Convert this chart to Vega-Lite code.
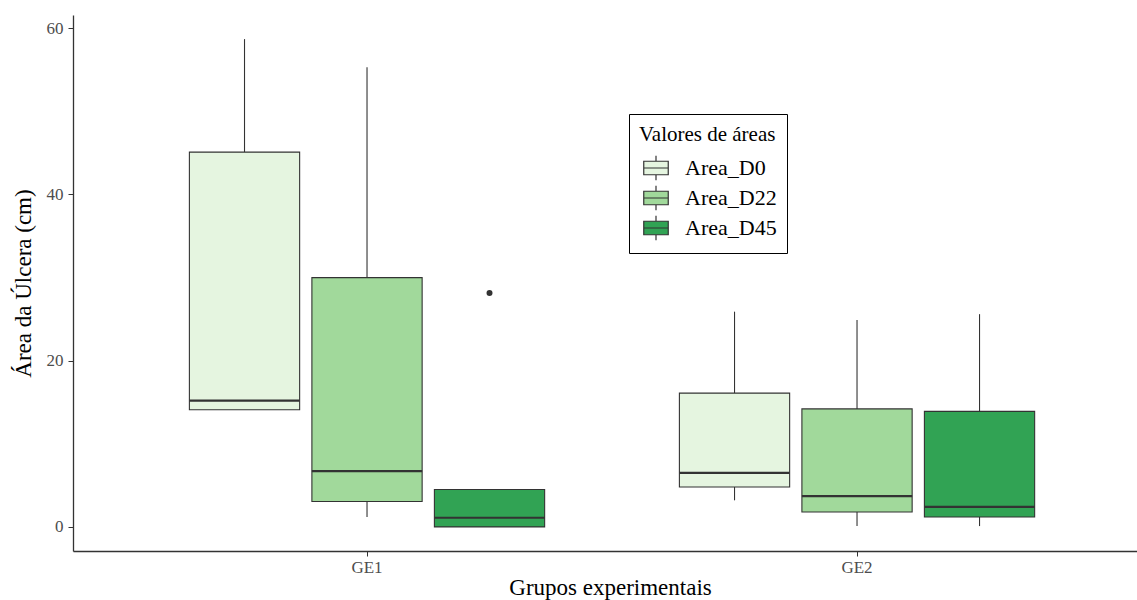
{
  "$schema": "https://vega.github.io/schema/vega-lite/v6.json",
  "width": 1064,
  "height": 536,
  "autosize": {"type": "none"},
  "padding": {"left": 73, "top": 15, "right": 0, "bottom": 49},
  "background": "white",
  "config": {
    "view": {"stroke": null},
    "font": "Liberation Serif",
    "axis": {
      "grid": false,
      "domainColor": "#333333",
      "domainWidth": 1.3,
      "tickColor": "#333333",
      "tickWidth": 1,
      "tickSize": 5,
      "labelColor": "#4d4d4d",
      "labelFont": "Liberation Serif",
      "labelFontSize": 17,
      "labelPadding": 3,
      "titleFont": "Liberation Serif",
      "titleFontWeight": "normal",
      "titleColor": "#000000"
    }
  },
  "datasets": {
    "boxes": [
      {"grupo": "GE1", "area": "Area_D0", "lower": 14.1, "q1": 14.1, "median": 15.2, "q3": 45.1, "upper": 58.7},
      {"grupo": "GE1", "area": "Area_D22", "lower": 1.2, "q1": 3.05, "median": 6.7, "q3": 30.0, "upper": 55.3},
      {"grupo": "GE1", "area": "Area_D45", "lower": 0.0, "q1": 0.0, "median": 1.1, "q3": 4.5, "upper": 4.5},
      {"grupo": "GE2", "area": "Area_D0", "lower": 3.2, "q1": 4.8, "median": 6.5, "q3": 16.1, "upper": 25.9},
      {"grupo": "GE2", "area": "Area_D22", "lower": 0.1, "q1": 1.8, "median": 3.7, "q3": 14.2, "upper": 24.9},
      {"grupo": "GE2", "area": "Area_D45", "lower": 0.1, "q1": 1.2, "median": 2.4, "q3": 13.9, "upper": 25.6}
    ],
    "outliers": [
      {"grupo": "GE1", "area": "Area_D45", "value": 28.15}
    ]
  },
  "encoding": {
    "x": {
      "field": "grupo",
      "type": "nominal",
      "title": "Grupos experimentais",
      "scale": {"domain": ["GE1", "GE2"], "paddingInner": 0.25, "paddingOuter": 0.2107, "align": 0.534},
      "axis": {"labelAngle": 0, "titleFontSize": 23, "titlePadding": 1, "titleX": 537, "labelFontSize": 17}
    },
    "xOffset": {
      "field": "area",
      "type": "nominal",
      "scale": {"domain": ["Area_D0", "Area_D22", "Area_D45"], "paddingInner": 0.1, "paddingOuter": 0.05}
    }
  },
  "layer": [
    {
      "data": {"name": "boxes"},
      "mark": {"type": "rule", "color": "#333333", "strokeWidth": 1.1},
      "encoding": {
        "y": {
          "field": "lower",
          "type": "quantitative",
          "title": "Área da Úlcera (cm)",
          "scale": {"domain": [-2.9, 61.6], "nice": false, "zero": false},
          "axis": {"values": [0, 20, 40, 60], "titleFontSize": 23, "titlePadding": 11, "labelPadding": 5}
        },
        "y2": {"field": "q1"}
      }
    },
    {
      "data": {"name": "boxes"},
      "mark": {"type": "rule", "color": "#333333", "strokeWidth": 1.1},
      "encoding": {
        "y": {"field": "q3", "type": "quantitative", "title": "Área da Úlcera (cm)"},
        "y2": {"field": "upper"}
      }
    },
    {
      "data": {"name": "boxes"},
      "mark": {"type": "bar", "stroke": "#333333", "strokeWidth": 1.1},
      "encoding": {
        "y": {"field": "q1", "type": "quantitative", "title": "Área da Úlcera (cm)"},
        "y2": {"field": "q3"},
        "fill": {
          "field": "area",
          "type": "nominal",
          "title": "Valores de áreas",
          "scale": {"domain": ["Area_D0", "Area_D22", "Area_D45"], "range": ["#e5f5e0", "#a1d99b", "#31a354"]},
          "legend": {
            "orient": "none",
            "legendX": 556,
            "legendY": 99,
            "padding": 10,
            "strokeColor": "#000000",
            "fillColor": "#ffffff",
            "titleFont": "Liberation Serif",
            "titleFontSize": 21,
            "titleFontWeight": "normal",
            "titleColor": "#000000",
            "titlePadding": 10,
            "labelFont": "Liberation Serif",
            "labelFontSize": 22,
            "labelColor": "#000000",
            "labelOffset": 16,
            "rowPadding": 0,
            "symbolType": "M-1,-0.55H1V0.55H-1Z M-1,0H1 M0,-1V-0.55 M0,0.55V1",
            "symbolSize": 600,
            "symbolStrokeColor": "#333333",
            "symbolStrokeWidth": 1.2,
            "symbolOffset": 4
          }
        }
      }
    },
    {
      "data": {"name": "boxes"},
      "mark": {"type": "bar", "stroke": "#333333", "strokeWidth": 2.2, "fillOpacity": 0},
      "encoding": {
        "y": {"field": "median", "type": "quantitative", "title": "Área da Úlcera (cm)"},
        "y2": {"field": "median"}
      }
    },
    {
      "data": {"name": "outliers"},
      "mark": {"type": "point", "filled": true, "color": "#333333", "size": 36, "opacity": 1},
      "encoding": {
        "y": {"field": "value", "type": "quantitative", "title": "Área da Úlcera (cm)"}
      }
    }
  ]
}
